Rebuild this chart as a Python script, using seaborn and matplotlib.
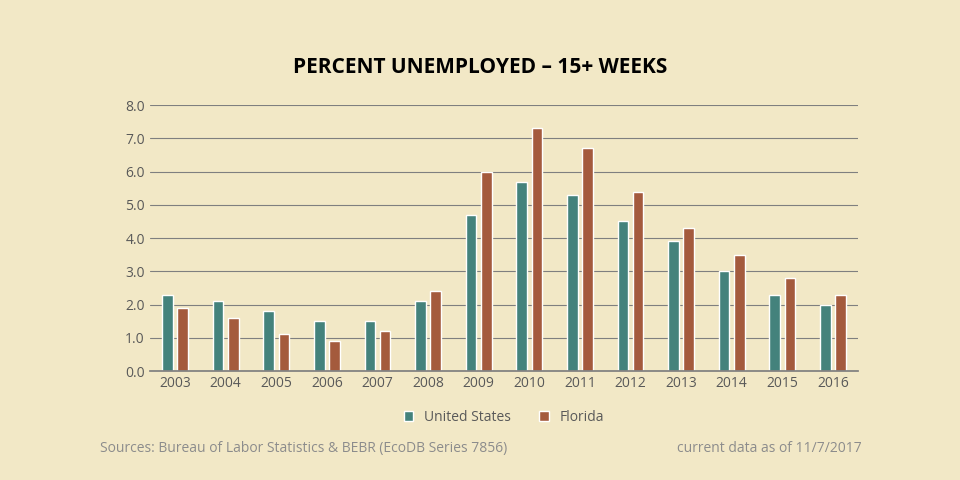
import matplotlib
matplotlib.use("Agg")
import matplotlib.pyplot as plt
import seaborn as sns
import pandas as pd

years = [str(y) for y in range(2003, 2017)]
us = [2.3, 2.1, 1.8, 1.5, 1.5, 2.1, 4.7, 5.7, 5.3, 4.5, 3.9, 3.0, 2.3, 2.0]
fl = [1.9, 1.6, 1.1, 0.9, 1.2, 2.4, 6.0, 7.3, 6.7, 5.4, 4.3, 3.5, 2.8, 2.3]
series = ["United States", "Florida"]

df = pd.DataFrame({"Year": years * 2, "Value": us + fl,
                   "Series": [series[0]] * len(years) + [series[1]] * len(years)})

bg = "#F2E8C6"
sns.set_theme(style="white")
plt.rcParams['font.family'] = ['Open Sans', 'DejaVu Sans']
fig = plt.figure(figsize=(9.6, 4.8), dpi=100, facecolor=bg)
ax = fig.add_axes([0.156, 0.227, 0.738, 0.554], facecolor=bg)
sns.barplot(data=df, x="Year", y="Value", hue="Series", palette=["#3A8C84", "#B5532C"],
            width=0.6, gap=0.3, ax=ax, legend=True)
ax.set_ylim(0, 8)
ax.set_yticks(range(9))
ax.set_yticklabels([f"{v:.1f}" for v in range(9)], color="#595959", fontsize=10)
ax.tick_params(axis='x', colors="#595959", labelsize=10, length=0)
ax.tick_params(axis='y', length=0)
ax.set_xlabel(""); ax.set_ylabel("")
ax.grid(axis='y', color="#7F7F7F", linewidth=0.8)
ax.set_axisbelow(True)
for s in ax.spines.values():
    s.set_visible(False)
ax.spines['bottom'].set_visible(True)
ax.spines['bottom'].set_color("#7F7F7F")
ax.legend(loc="upper center", bbox_to_anchor=(0.5, -0.1), ncol=2, frameon=False,
          fontsize=10, handlelength=0.7, handleheight=0.7, labelcolor="#595959")
fig.text(0.5, 0.86, "PERCENT UNEMPLOYED – 15+ WEEKS", ha="center", va="center",
         fontsize=15, fontweight="bold", color="black")
fig.text(0.104, 0.065, "Sources: Bureau of Labor Statistics & BEBR (EcoDB Series 7856)",
         fontsize=10, color="#8C8C8C", va="center")
fig.text(0.898, 0.065, "current data as of 11/7/2017", fontsize=10, color="#8C8C8C",
         ha="right", va="center")
fig.savefig("out.png", dpi=100, facecolor=bg)
